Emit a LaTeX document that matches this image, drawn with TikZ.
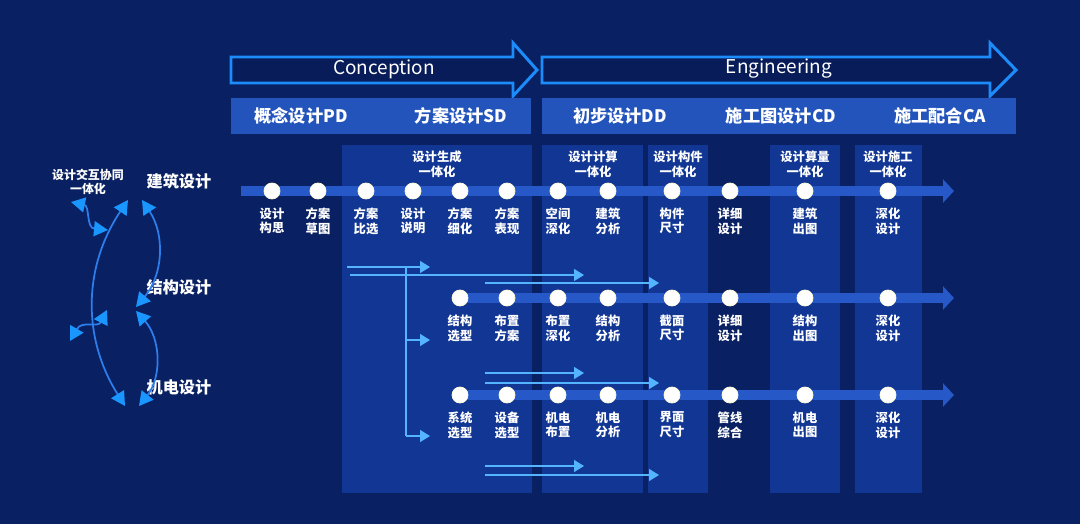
\documentclass[tikz,border=0pt]{standalone}
\usepackage{fontspec}
\setmainfont{Noto Sans CJK SC}
\usetikzlibrary{arrows.meta, positioning}
\tikzset{>=Triangle}

\definecolor{bgblue}{RGB}{9,33,98}
\definecolor{bgdark}{RGB}{7,28,88}
\definecolor{panelblue}{RGB}{17,54,148}
\definecolor{barblue}{RGB}{34,84,188}
\definecolor{laneblue}{RGB}{38,88,200}
\definecolor{edgeblue}{RGB}{28,140,250}
\definecolor{tipblue}{RGB}{25,150,255}
\definecolor{flowblue}{RGB}{85,180,255}
\definecolor{curveblue}{RGB}{45,125,235}

\tikzset{
  dot/.style={circle, fill=white, draw=yellow!15, line width=0.4pt, minimum size=0.32cm, inner sep=0pt},
  lbl/.style={text=white, font=\bfseries\fontsize{7}{8.4}\selectfont, align=center, inner sep=0pt},
  stage/.style={text=white, font=\bfseries\fontsize{9.8}{11}\selectfont, inner sep=0pt},
  phase/.style={text=white, font=\fontsize{10.8}{12}\selectfont, inner sep=0pt},
  discipline/.style={text=white, font=\bfseries\fontsize{9.2}{11}\selectfont, inner sep=0pt},
  lane/.style={draw=laneblue, line width=0.2cm, -{Triangle[length=0.22cm, width=0.46cm]}},
  flow/.style={draw=flowblue, line width=0.9pt, -{Triangle[length=0.2cm, width=0.24cm]}},
  link/.style={draw=curveblue, line width=1pt,
    {Triangle[length=0.28cm, width=0.3cm, color=tipblue]}-{Triangle[length=0.28cm, width=0.3cm, color=tipblue]}}
}

\begin{document}
\begin{tikzpicture}[x=0.02cm, y=-0.02cm]

	\useasboundingbox (0,0) rectangle (1080,524);
	\fill[bgblue] (0,0) rectangle (1080,524);

	% phase arrows
	\draw[edgeblue, line width=1.7pt, fill=bgdark] (231,57) -- (513,57) -- (513,43) -- (537,70) -- (513,96) -- (513,83) -- (231,83) -- cycle;
	\draw[edgeblue, line width=1.7pt, fill=bgdark] (542,57) -- (990,57) -- (990,43) -- (1016,70) -- (990,96) -- (990,83) -- (542,83) -- cycle;
	\node[phase] (P1) at (384,69) {Conception};
	\node[phase] (P2) at (779,69) {Engineering};

	% stage bar
	\fill[barblue] (231,98) rectangle (531,134);
	\fill[barblue] (542,98) rectangle (1016,134);
	\node[stage] (T1) at (301,116) {概念设计PD};
	\node[stage] (T2) at (461,116) {方案设计SD};
	\node[stage] (T3) at (620,116) {初步设计DD};
	\node[stage] (T4) at (781,116) {施工图设计CD};
	\node[stage] (T5) at (940,116) {施工配合CA};

	% integration panels
	\fill[panelblue] (342,145) rectangle (532,493);
	\fill[panelblue] (542,145) rectangle (643,493);
	\fill[panelblue] (648,145) rectangle (708,493);
	\fill[panelblue] (770,145) rectangle (840,493);
	\fill[panelblue] (855,145) rectangle (922,493);
	\node[lbl] (G1) at (437,164) {设计生成\\一体化};
	\node[lbl] (G2) at (593,164) {设计计算\\一体化};
	\node[lbl] (G3) at (678,164) {设计构件\\一体化};
	\node[lbl] (G4) at (805,164) {设计算量\\一体化};
	\node[lbl] (G5) at (888,164) {设计施工\\一体化};

	% lanes
	\coordinate (a0) at (241,191);
	\coordinate (aE) at (954,191);
	\coordinate (s0) at (460,298);
	\coordinate (sE) at (954,298);
	\coordinate (m0) at (460,395);
	\coordinate (mE) at (954,395);
	\draw[lane] (a0) -- (aE);
	\draw[lane] (s0) -- (sE);
	\draw[lane] (m0) -- (mE);

	% architecture
	\node[dot, label={[lbl, label distance=0.16cm]below:{设计\\构思}}] (a1) at (272,191) {};
	\node[dot, label={[lbl, label distance=0.16cm]below:{方案\\草图}}] (a2) at (318,191) {};
	\node[dot, label={[lbl, label distance=0.16cm]below:{方案\\比选}}] (a3) at (366,191) {};
	\node[dot, label={[lbl, label distance=0.16cm]below:{设计\\说明}}] (a4) at (413,191) {};
	\node[dot, label={[lbl, label distance=0.16cm]below:{方案\\细化}}] (a5) at (460,191) {};
	\node[dot, label={[lbl, label distance=0.16cm]below:{方案\\表现}}] (a6) at (507,191) {};
	\node[dot, label={[lbl, label distance=0.16cm]below:{空间\\深化}}] (a7) at (558,191) {};
	\node[dot, label={[lbl, label distance=0.16cm]below:{建筑\\分析}}] (a8) at (608,191) {};
	\node[dot, label={[lbl, label distance=0.16cm]below:{构件\\尺寸}}] (a9) at (672,191) {};
	\node[dot, label={[lbl, label distance=0.16cm]below:{详细\\设计}}] (a10) at (730,191) {};
	\node[dot, label={[lbl, label distance=0.16cm]below:{建筑\\出图}}] (a11) at (805,191) {};
	\node[dot, label={[lbl, label distance=0.16cm]below:{深化\\设计}}] (a12) at (888,191) {};

	% structure
	\node[dot, label={[lbl, label distance=0.16cm]below:{结构\\选型}}] (s1) at (460,298) {};
	\node[dot, label={[lbl, label distance=0.16cm]below:{布置\\方案}}] (s2) at (507,298) {};
	\node[dot, label={[lbl, label distance=0.16cm]below:{布置\\深化}}] (s3) at (558,298) {};
	\node[dot, label={[lbl, label distance=0.16cm]below:{结构\\分析}}] (s4) at (608,298) {};
	\node[dot, label={[lbl, label distance=0.16cm]below:{截面\\尺寸}}] (s5) at (672,298) {};
	\node[dot, label={[lbl, label distance=0.16cm]below:{详细\\设计}}] (s6) at (730,298) {};
	\node[dot, label={[lbl, label distance=0.16cm]below:{结构\\出图}}] (s7) at (805,298) {};
	\node[dot, label={[lbl, label distance=0.16cm]below:{深化\\设计}}] (s8) at (888,298) {};

	% MEP
	\node[dot, label={[lbl, label distance=0.16cm]below:{系统\\选型}}] (m1) at (460,395) {};
	\node[dot, label={[lbl, label distance=0.16cm]below:{设备\\选型}}] (m2) at (507,395) {};
	\node[dot, label={[lbl, label distance=0.16cm]below:{机电\\布置}}] (m3) at (558,395) {};
	\node[dot, label={[lbl, label distance=0.16cm]below:{机电\\分析}}] (m4) at (608,395) {};
	\node[dot, label={[lbl, label distance=0.16cm]below:{界面\\尺寸}}] (m5) at (672,395) {};
	\node[dot, label={[lbl, label distance=0.16cm]below:{管线\\综合}}] (m6) at (730,395) {};
	\node[dot, label={[lbl, label distance=0.16cm]below:{机电\\出图}}] (m7) at (805,395) {};
	\node[dot, label={[lbl, label distance=0.16cm]below:{深化\\设计}}] (m8) at (888,395) {};

	% flows
	\coordinate (f1) at (347,267);
	\coordinate (f1e) at (430,267);
	\coordinate (f2) at (350,275);
	\coordinate (f2e) at (584,275);
	\coordinate (f3) at (485,283);
	\coordinate (f3e) at (659,283);
	\coordinate (v0) at (406,267);
	\coordinate (v1) at (406,340);
	\coordinate (v1e) at (430,340);
	\coordinate (v2) at (406,436);
	\coordinate (v2e) at (430,436);
	\coordinate (f4) at (485,373);
	\coordinate (f4e) at (584,373);
	\coordinate (f5) at (485,383);
	\coordinate (f5e) at (659,383);
	\coordinate (f6) at (485,466);
	\coordinate (f6e) at (584,466);
	\coordinate (f7) at (485,475);
	\coordinate (f7e) at (659,475);
	\draw[flow] (f1) -- (f1e);
	\draw[flow] (f2) -- (f2e);
	\draw[flow] (f3) -- (f3e);
	\draw[flowblue, line width=0.9pt] (v0) -- (v2);
	\draw[flow] (v1) -- (v1e);
	\draw[flow] (v2) -- (v2e);
	\draw[flow] (f4) -- (f4e);
	\draw[flow] (f5) -- (f5e);
	\draw[flow] (f6) -- (f6e);
	\draw[flow] (f7) -- (f7e);

	% disciplines
	\node[discipline] (D1) at (179,181) {建筑设计};
	\node[discipline] (D2) at (179,287) {结构设计};
	\node[discipline] (D3) at (179,387) {机电设计};
	\node[lbl, font=\bfseries\fontsize{6.8}{8.2}\selectfont] (X) at (88,182) {设计交互协同\\一体化};

	% collaboration links
	\coordinate (j1) at (128,200);
	\coordinate (j2) at (125,406);
	\coordinate (k1) at (142,200);
	\coordinate (k2) at (136,307);
	\coordinate (k3) at (136,311);
	\coordinate (k4) at (139,406);
	\coordinate (w1) at (71,202);
	\coordinate (w2) at (108,230);
	\coordinate (w3) at (107,310);
	\coordinate (w4) at (70,341);
	\draw[link] (j1) to [bend right=33] (j2);
	\draw[link] (k1) to [bend left=37] (k2);
	\draw[link] (k3) to [bend left=40] (k4);
	\draw[link] (w1) .. controls (90,206) and (86,228) .. (w2);
	\draw[link] (w3) .. controls (98,328) and (82,320) .. (w4);

\end{tikzpicture}
\end{document}
